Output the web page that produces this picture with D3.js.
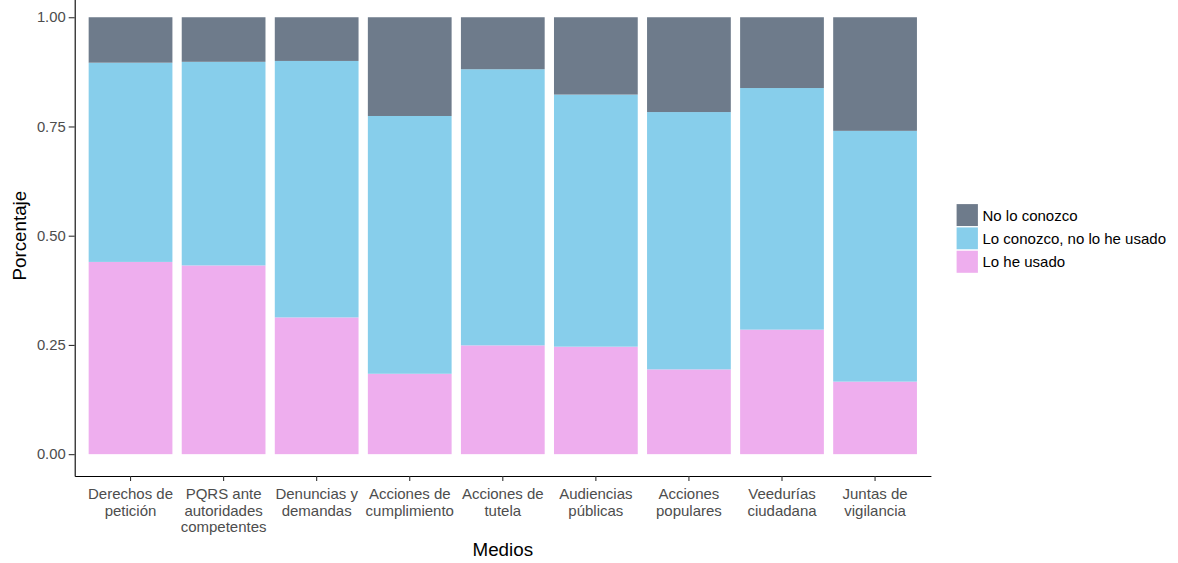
<!DOCTYPE html>
<html lang="es">
<head>
<meta charset="utf-8">
<title>Medios - Porcentaje</title>
<script src="https://cdn.jsdelivr.net/npm/d3@7"></script>
<style>
  body { margin: 0; background: #fff; }
  svg { display: block; font-family: "Liberation Sans", Arial, sans-serif; }
</style>
</head>
<body>
<script>
// Chart data
var medios = ["Derechos de\npetición", "PQRS ante\nautoridades\ncompetentes", "Denuncias y\ndemandas",
              "Acciones de\ncumplimiento", "Acciones de\ntutela", "Audiencias\npúblicas",
              "Acciones\npopulares", "Veedurías\nciudadana", "Juntas de\nvigilancia"];
var loHeUsado   = [0.440, 0.432, 0.313, 0.184, 0.249, 0.246, 0.194, 0.285, 0.166];
var loConozco   = [0.456, 0.466, 0.587, 0.590, 0.632, 0.577, 0.589, 0.553, 0.574];
var noLoConozco = [0.104, 0.102, 0.100, 0.226, 0.119, 0.177, 0.217, 0.162, 0.260];
var series = ["Lo he usado", "Lo conozco, no lo he usado", "No lo conozco"];
var legendOrder = ["No lo conozco", "Lo conozco, no lo he usado", "Lo he usado"];
var yTicks = [0, 0.25, 0.5, 0.75, 1];

var w = 1178, h = 563;
// panel edges (note: "top" is reserved on window, so use other names)
var panelL = 74.7, panelR = 930.9, panelB = 476, panelT = -4.6;

// build rows for d3.stack
var rows = medios.map(function(m, i) {
  var r = { medio: m };
  r[series[0]] = loHeUsado[i];
  r[series[1]] = loConozco[i];
  r[series[2]] = noLoConozco[i];
  return r;
});

var color = d3.scaleOrdinal()
  .domain(series)
  .range(["#EEAEEE", "#87CEEB", "#6E7B8B"]);

var x = d3.scaleBand()
  .domain(medios)
  .range([panelL, panelR])
  .paddingInner(0.1)
  .paddingOuter(0.15);

var y = d3.scaleLinear()
  .domain([-0.05, 1.05])
  .range([panelB, panelT]);

var svg = d3.select("body").append("svg")
  .attr("width", w)
  .attr("height", h);

// stacked bars
var stacked = d3.stack().keys(series)(rows);

svg.append("g").selectAll("g")
  .data(stacked)
  .enter().append("g")
  .attr("fill", function(d) { return color(d.key); })
  .selectAll("rect")
  .data(function(d) { return d; })
  .enter().append("rect")
  .attr("x", function(d) { return x(d.data.medio); })
  .attr("width", x.bandwidth())
  .attr("y", function(d) { return y(d[1]); })
  .attr("height", function(d) { return y(d[0]) - y(d[1]); });

// y axis
var yAxis = svg.append("g")
  .attr("transform", "translate(" + panelL + ",0)")
  .call(d3.axisLeft(y).tickValues(yTicks).tickFormat(d3.format(".2f")).tickSize(6).tickSizeOuter(0).tickPadding(3));
yAxis.select(".domain").attr("stroke", "#000").attr("stroke-width", 1.1);
yAxis.selectAll(".tick line").attr("stroke", "#333").attr("stroke-width", 1.1);
yAxis.selectAll(".tick text")
  .attr("fill", "#4D4D4D")
  .style("font-size", "14.8px")
  .style("font-family", "Liberation Sans, Arial, sans-serif");

// x axis
var xAxis = svg.append("g")
  .attr("transform", "translate(0," + panelB + ")")
  .call(d3.axisBottom(x).tickSize(5).tickSizeOuter(0).tickFormat(""));
xAxis.select(".domain").attr("stroke", "#000").attr("stroke-width", 1.1);
xAxis.selectAll(".tick line").attr("stroke", "#333").attr("stroke-width", 1.1);

// multi-line tick labels
medios.forEach(function(m) {
  var t = svg.append("text")
    .attr("x", x(m) + x.bandwidth() / 2)
    .attr("y", 499)
    .attr("text-anchor", "middle")
    .attr("fill", "#4D4D4D")
    .style("font-size", "15px");
  m.split("\n").forEach(function(line, i) {
    t.append("tspan")
      .attr("x", x(m) + x.bandwidth() / 2)
      .attr("dy", i === 0 ? 0 : 16.7)
      .text(line);
  });
});

// axis titles
svg.append("text")
  .attr("x", (panelL + panelR) / 2)
  .attr("y", 556)
  .attr("text-anchor", "middle")
  .style("font-size", "18.8px")
  .text("Medios");

svg.append("text")
  .attr("transform", "translate(25.5," + (panelB + panelT) / 2 + ") rotate(-90)")
  .attr("text-anchor", "middle")
  .style("font-size", "18.8px")
  .text("Porcentaje");

// legend
var legend = svg.append("g")
  .attr("transform", "translate(956,203.5)");

var item = legend.selectAll("g")
  .data(legendOrder)
  .enter().append("g")
  .attr("transform", function(d, i) { return "translate(0," + i * 23.3 + ")"; });

item.append("rect")
  .attr("width", 22.5)
  .attr("height", 23.3)
  .attr("fill", function(d) { return color(d); })
  .attr("stroke", "#fff")
  .attr("stroke-width", 1.2);

item.append("text")
  .attr("x", 26.5)
  .attr("y", 11.7)
  .attr("dominant-baseline", "central")
  .style("font-size", "15px")
  .text(function(d) { return d; });
</script>
</body>
</html>
